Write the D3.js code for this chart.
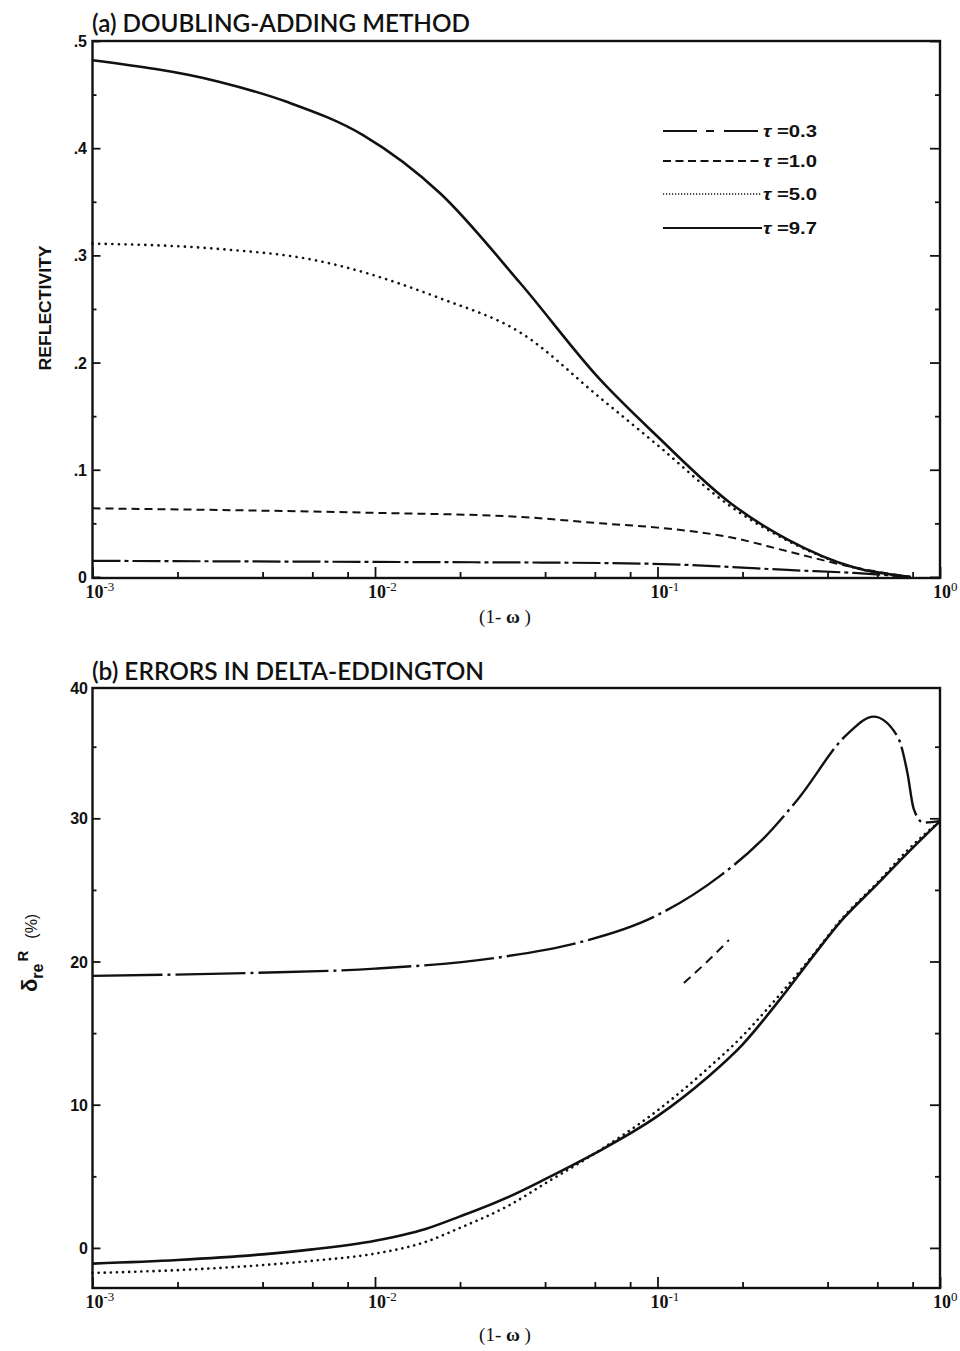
<!DOCTYPE html>
<html>
<head>
<meta charset="utf-8">
<script src="https://cdn.jsdelivr.net/npm/d3@7"></script>
<style>
body { margin: 0; background: #fff; }
svg text { fill: #111; }
</style>
</head>
<body>
<script>

// x axis (1 - omega), shared by both panels
var xMajor = [1e-3, 1e-2, 1e-1, 1];
var xMajorExp = ["-3", "-2", "-1", "0"];
var xMinor = [2e-3, 4e-3, 6e-3, 8e-3, 2e-2, 4e-2, 6e-2, 8e-2, 0.2, 0.4, 0.6, 0.8];

// panel (a) y ticks
var reflTicks = [0, 0.1, 0.2, 0.3, 0.4, 0.5];
var reflTickLabels = ["0", ".1", ".2", ".3", ".4", ".5"];
var reflMinor = [0.05, 0.15, 0.25, 0.35, 0.45];

// panel (b) y ticks
var errTicks = [0, 10, 20, 30];
var errTickLabels = ["0", "10", "20", "30", "40"];
var errMinor = [5, 15, 25, 35];

var tauLabels = ["0.3", "1.0", "5.0", "9.7"];

// (a) reflectivity vs (1-omega)
var refl03 = [[0.001, 0.015], [0.01, 0.014], [0.0627, 0.013], [0.12, 0.0115], [0.181, 0.0093], [0.288, 0.0065], [0.494, 0.0037], [0.787, 0]];
var refl10 = [[0.001, 0.064], [0.0091, 0.060], [0.0327, 0.056], [0.0627, 0.050], [0.1, 0.046], [0.181, 0.037], [0.288, 0.024], [0.494, 0.009], [0.787, 0]];
var refl50 = [[0.001, 0.311], [0.0028, 0.306], [0.006, 0.296], [0.017, 0.260], [0.0327, 0.228], [0.0627, 0.167], [0.1, 0.123], [0.181, 0.066], [0.288, 0.034], [0.494, 0.009], [0.787, 0]];
var refl97 = [[0.001, 0.482], [0.0028, 0.462], [0.0049, 0.443], [0.0091, 0.412], [0.017, 0.358], [0.0327, 0.274], [0.0627, 0.184], [0.1, 0.131], [0.181, 0.069], [0.288, 0.035], [0.494, 0.009], [0.787, 0]];

// (b) relative error of delta-Eddington (%)
var err03 = [[0.001, 19.0], [0.0036, 19.2], [0.01, 19.5], [0.0278, 20.3], [0.052, 21.3], [0.0966, 23.1], [0.167, 26.0], [0.232, 28.4], [0.313, 31.3], [0.471, 35.9], [0.582, 37.1], [0.708, 35.7], [0.768, 33.1], [0.806, 30.7], [0.874, 29.7], [1.0, 29.8]];
var err10 = [[0.124, 18.5], [0.15, 20.0], [0.179, 21.5]];
var err50 = [[0.001, -1.75], [0.002, -1.55], [0.004, -1.2], [0.006, -0.9], [0.01, -0.4], [0.015, 0.4], [0.02, 1.4], [0.03, 3.0], [0.04, 4.5], [0.06, 6.6], [0.1, 9.6], [0.15, 12.5], [0.2, 14.8], [0.25, 16.9], [0.35, 20.3], [0.45, 23.0], [0.6, 25.5], [0.77, 27.8], [1.0, 29.8]];
var err97 = [[0.001, -1.1], [0.002, -0.85], [0.004, -0.45], [0.006, -0.1], [0.01, 0.5], [0.015, 1.3], [0.02, 2.2], [0.03, 3.6], [0.04, 4.8], [0.06, 6.6], [0.1, 9.2], [0.15, 11.9], [0.2, 14.2], [0.27, 17.3], [0.35, 20.2], [0.45, 22.9], [0.6, 25.4], [0.77, 27.6], [1.0, 29.8]];

var w = 960;
var h = 1351;
var left = 92.5, right = 940;

var svg = d3.select("body")
    .append("svg")
    .attr("width", w)
    .attr("height", h);

var xScale = d3.scaleLog()
    .domain([1e-3, 1])
    .range([left, right]);

var yA = d3.scaleLinear()
    .domain([-0.001, 0.5])
    .range([578, 41]);

// the frame of (b) stops a little under 40
var yB = d3.scaleLinear()
    .domain([-2.8, 39.1])
    .range([1288, 688]);

var styleA = [
    {dash: "28,4,4,4", width: 2.2, cap: "butt"},
    {dash: "8,5", width: 2, cap: "butt"},
    {dash: "0.1,6.5", width: 2.6, cap: "round"},
    {dash: null, width: 2.6, cap: "butt"}
];
var legendDash = ["34,9,8,10", "8,4.5", "1.2,1.8", null];

function frame(yScale, majors, minors, titleGap) {
    var g = svg.append("g");
    var y0 = yScale.range()[0], y1 = yScale.range()[1];

    // bottom ticks, inward
    g.append("g")
        .attr("transform", "translate(0," + y0 + ")")
        .call(d3.axisBottom(xScale).tickValues(xMajor).tickSize(-11).tickSizeOuter(0).tickFormat(""));
    g.append("g")
        .attr("transform", "translate(0," + y0 + ")")
        .call(d3.axisBottom(xScale).tickValues(xMinor).tickSize(-6).tickSizeOuter(0).tickFormat(""));

    // left ticks
    g.append("g")
        .attr("transform", "translate(" + left + ",0)")
        .call(d3.axisRight(yScale).tickValues(majors).tickSize(8).tickSizeOuter(0).tickFormat(""));
    g.append("g")
        .attr("transform", "translate(" + left + ",0)")
        .call(d3.axisRight(yScale).tickValues(minors).tickSize(4).tickSizeOuter(0).tickFormat(""));

    // right ticks
    g.append("g")
        .attr("transform", "translate(" + right + ",0)")
        .call(d3.axisLeft(yScale).tickValues(majors).tickSize(10).tickSizeOuter(0).tickFormat(""));
    g.append("g")
        .attr("transform", "translate(" + right + ",0)")
        .call(d3.axisLeft(yScale).tickValues(minors).tickSize(5).tickSizeOuter(0).tickFormat(""));

    g.selectAll(".domain").remove();
    g.selectAll(".tick line").attr("stroke", "#111").attr("stroke-width", 1.8);

    g.append("rect")
        .attr("x", left)
        .attr("y", y1)
        .attr("width", right - left)
        .attr("height", y0 - y1)
        .attr("fill", "none")
        .attr("stroke", "#111")
        .attr("stroke-width", 2.4);

    // x tick labels 10^n
    var lab = g.selectAll(".xlab")
        .data(xMajor)
        .enter()
        .append("text")
        .attr("class", "xlab")
        .attr("x", function(d) { return xScale(d) - 7; })
        .attr("y", y0 + 20)
        .style("font-family", "'Liberation Serif', serif")
        .style("font-weight", "bold")
        .style("font-size", "18px");
    lab.append("tspan").text("10");
    lab.append("tspan")
        .attr("dy", -7)
        .style("font-size", "13px")
        .style("font-weight", "normal")
        .text(function(d, i) { return xMajorExp[i]; });

    var xt = g.append("text")
        .attr("x", 505)
        .attr("y", y0 + titleGap)
        .attr("text-anchor", "middle")
        .style("font-family", "'Liberation Serif', serif")
        .style("font-size", "19px");
    xt.append("tspan").text("(1- ");
    xt.append("tspan").style("font-weight", "bold").text("\u03c9");
    xt.append("tspan").text(" )");
    return g;
}

function drawLine(yScale, data, st) {
    var line = d3.line()
        .x(function(d) { return xScale(d[0]); })
        .y(function(d) { return yScale(d[1]); })
        .curve(d3.curveMonotoneX);
    svg.append("path")
        .datum(data)
        .attr("d", line)
        .attr("fill", "none")
        .attr("stroke", "#111")
        .attr("stroke-width", st.width)
        .attr("stroke-linecap", st.cap)
        .attr("stroke-dasharray", st.dash);
}

// ---------- panel (a)
frame(yA, reflTicks, reflMinor, 45);

svg.append("text")
    .attr("x", 92)
    .attr("y", 32)
    .attr("textLength", 378)
    .attr("lengthAdjust", "spacingAndGlyphs")
    .style("font-family", "Lato, sans-serif")
    .style("font-weight", "600")
    .style("font-size", "24px")
    .text("(a)  DOUBLING-ADDING METHOD");

svg.selectAll(".ylabA")
    .data(reflTicks)
    .enter()
    .append("text")
    .attr("x", 87)
    .attr("y", function(d) { return yA(d) + 6; })
    .attr("text-anchor", "end")
    .style("font-family", "'Liberation Sans', sans-serif")
    .style("font-weight", "bold")
    .style("font-size", "16px")
    .text(function(d, i) { return reflTickLabels[i]; });

svg.append("text")
    .attr("transform", "translate(51,308) rotate(-90)")
    .attr("text-anchor", "middle")
    .attr("textLength", 125)
    .attr("lengthAdjust", "spacingAndGlyphs")
    .style("font-family", "'Liberation Sans', sans-serif")
    .style("font-weight", "bold")
    .style("font-size", "16px")
    .text("REFLECTIVITY");

[refl03, refl10, refl50, refl97].forEach(function(s, i) {
    drawLine(yA, s, styleA[i]);
});

// legend
var legY = [131, 161, 194, 228];
tauLabels.forEach(function(t, i) {
    svg.append("line")
        .attr("x1", 663).attr("x2", 762)
        .attr("y1", legY[i]).attr("y2", legY[i])
        .attr("stroke", "#111")
        .attr("stroke-width", i == 2 ? 1.6 : 2.2)
        .attr("stroke-dasharray", legendDash[i]);
    var tx = svg.append("text")
        .attr("x", 763)
        .attr("y", legY[i] + 6)
        .attr("textLength", 54)
        .attr("lengthAdjust", "spacingAndGlyphs")
        .style("font-family", "'Liberation Sans', sans-serif")
        .style("font-weight", "bold")
        .style("font-size", "17px");
    tx.append("tspan").style("font-style", "italic").text("\u03c4");
    tx.append("tspan").text(" =" + t);
});

// ---------- panel (b)
frame(yB, errTicks, errMinor, 53);

svg.append("text")
    .attr("x", 92)
    .attr("y", 680)
    .attr("textLength", 392)
    .attr("lengthAdjust", "spacingAndGlyphs")
    .style("font-family", "Lato, sans-serif")
    .style("font-weight", "600")
    .style("font-size", "24px")
    .text("(b)  ERRORS IN DELTA-EDDINGTON");

svg.selectAll(".ylabB")
    .data(errTickLabels)
    .enter()
    .append("text")
    .attr("x", 88)
    .attr("y", function(d) { return Math.max(yB(+d), yB.range()[1]) + 6; })
    .attr("text-anchor", "end")
    .style("font-family", "'Liberation Sans', sans-serif")
    .style("font-weight", "bold")
    .style("font-size", "16px")
    .text(function(d) { return d; });

var yl = svg.append("text")
    .attr("transform", "translate(37,992) rotate(-90)")
    .style("font-family", "'Liberation Sans', sans-serif")
    .style("font-weight", "bold")
    .style("font-size", "22px");
yl.append("tspan").text("\u03b4");
yl.append("tspan").attr("dy", 6).style("font-size", "16px").text("re");
yl.append("tspan").attr("dy", -15).attr("dx", 2).style("font-size", "15px").text("R");
yl.append("tspan").attr("dy", 9).attr("dx", 12).style("font-weight", "normal").style("font-size", "16px").text("(%)");

drawLine(yB, err03, {dash: "70,5,3,5", width: 2.4, cap: "butt"});
drawLine(yB, err10, {dash: "9,6", width: 2, cap: "butt"});
drawLine(yB, err50, {dash: "0.1,6", width: 2.6, cap: "round"});
drawLine(yB, err97, {dash: null, width: 2.6, cap: "butt"});

</script>
</body>
</html>
